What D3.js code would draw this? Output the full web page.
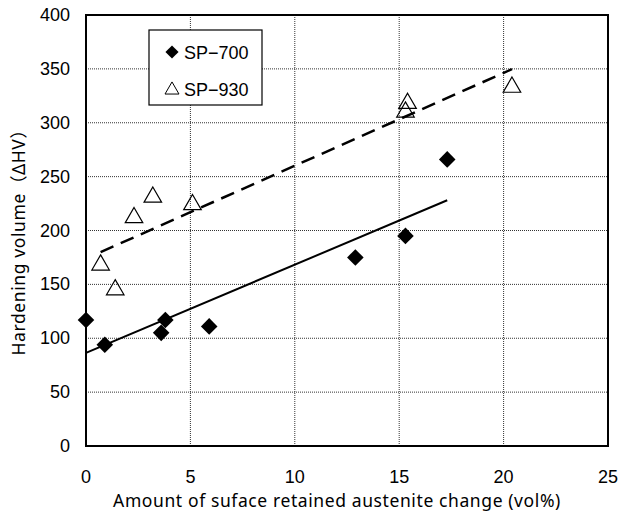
<!DOCTYPE html>
<html>
<head>
<meta charset="utf-8">
<script src="https://cdn.jsdelivr.net/npm/d3@7"></script>
<style>
  body { margin: 0; background: #fff; }
  #chart { width: 620px; height: 513px; }
  text { fill: #000; }
</style>
</head>
<body>
<div id="chart"></div>
<script>
// data

const sp700X = [0, 0.9, 3.6, 3.8, 5.9, 12.9, 15.3, 17.3];
const sp700Y = [117, 94, 105, 117, 111, 175, 195, 266];

const sp930X = [0.7, 1.4, 2.3, 3.2, 5.1, 15.3, 15.4, 20.4];
const sp930Y = [168, 145, 212, 231, 224, 310, 318, 333];

const xTicks = [0, 5, 10, 15, 20, 25];
const yTicks = [0, 50, 100, 150, 200, 250, 300, 350, 400];

const seriesNames = ["SP-700", "SP-930"];

const xTitle = "Amount of suface retained austenite change (vol%)";
const yTitle = "Hardening volume（ΔHV）";

// least squares line over the range of the points
function fit(xs, ys) {
  const mx = d3.mean(xs), my = d3.mean(ys);
  const sxy = d3.sum(xs, (x, i) => (x - mx) * (ys[i] - my));
  const sxx = d3.sum(xs, (x) => (x - mx) * (x - mx));
  const b = sxy / sxx, a = my - b * mx;
  const [x0, x1] = d3.extent(xs);
  return [[x0, a + b * x0], [x1, a + b * x1]];
}

const width = 620, height = 513;
const margin = { top: 15, right: 12, bottom: 67, left: 86 };

const svg = d3.select("#chart")
  .append("svg")
  .attr("width", width)
  .attr("height", height);

const x = d3.scaleLinear().domain([0, 25]).range([margin.left, width - margin.right]);
const y = d3.scaleLinear().domain([0, 400]).range([height - margin.bottom, margin.top]);

// grid

svg.append("g")
  .selectAll("line")
  .data(xTicks.slice(1, -1))
  .join("line")
  .attr("x1", (d) => x(d)).attr("x2", (d) => x(d))
  .attr("y1", y(0)).attr("y2", y(400))
  .attr("stroke", "#333")
  .attr("stroke-width", 1)
  .attr("stroke-dasharray", "1,1");

svg.append("g")
  .selectAll("line")
  .data(yTicks.slice(1, -1))
  .join("line")
  .attr("x1", x(0)).attr("x2", x(25))
  .attr("y1", (d) => y(d)).attr("y2", (d) => y(d))
  .attr("stroke", "#333")
  .attr("stroke-width", 1)
  .attr("stroke-dasharray", "1,1");

// frame

svg.append("rect")
  .attr("x", x(0)).attr("y", y(400))
  .attr("width", x(25) - x(0)).attr("height", y(0) - y(400))
  .attr("fill", "none")
  .attr("stroke", "#000")
  .attr("stroke-width", 2);

// tick labels

svg.append("g")
  .selectAll("text")
  .data(xTicks)
  .join("text")
  .attr("x", (d) => x(d))
  .attr("y", y(0) + 37)
  .attr("text-anchor", "middle")
  .style("font", "18px 'Liberation Sans', Arial, sans-serif")
  .text((d) => d);

svg.append("g")
  .selectAll("text")
  .data(yTicks)
  .join("text")
  .attr("x", x(0) - 16)
  .attr("y", (d) => y(d) + 6)
  .attr("text-anchor", "end")
  .style("font", "18px 'Liberation Sans', Arial, sans-serif")
  .text((d) => d);

// axis titles

svg.append("text")
  .attr("x", 337)
  .attr("y", 507)
  .attr("text-anchor", "middle")
  .style("font", "17.5px 'Noto Sans', 'Noto Sans CJK JP', sans-serif")
  .style("letter-spacing", "0.6px")
  .text(xTitle);

svg.append("text")
  .attr("transform", "translate(25," + 238 + ") rotate(-90)")
  .attr("text-anchor", "middle")
  .style("font", "17.5px 'Noto Sans', 'Noto Sans CJK JP', sans-serif")
  .style("letter-spacing", "0.6px")
  .text(yTitle);

// trend lines

const line = d3.line().x((d) => x(d[0])).y((d) => y(d[1]));

svg.append("path")
  .attr("d", line(fit(sp700X, sp700Y)))
  .attr("fill", "none")
  .attr("stroke", "#000")
  .attr("stroke-width", 2);

svg.append("path")
  .attr("d", line(fit(sp930X, sp930Y)))
  .attr("fill", "none")
  .attr("stroke", "#000")
  .attr("stroke-width", 2.5)
  .attr("stroke-dasharray", "14,8");

// markers

const diamond = d3.symbol().type(d3.symbolDiamond2).size(175);
const triangle = d3.symbol().type(d3.symbolTriangle2).size(220);

svg.append("g")
  .selectAll("path")
  .data(sp700X)
  .join("path")
  .attr("transform", (d, i) => "translate(" + [x(d), y(sp700Y[i])] + ")")
  .attr("d", diamond)
  .attr("fill", "#000");

svg.append("g")
  .selectAll("path")
  .data(sp930X)
  .join("path")
  .attr("transform", (d, i) => "translate(" + [x(d), y(sp930Y[i])] + ")")
  .attr("d", triangle)
  .attr("fill", "none")
  .attr("stroke", "#000")
  .attr("stroke-width", 1.2);

// legend

const legend = svg.append("g").attr("transform", "translate(149,30)");

legend.append("rect")
  .attr("width", 113).attr("height", 75)
  .attr("fill", "#fff")
  .attr("stroke", "#000")
  .attr("stroke-width", 1.2);

legend.append("path")
  .attr("transform", "translate(23,22)")
  .attr("d", d3.symbol().type(d3.symbolDiamond2).size(110))
  .attr("fill", "#000");

legend.append("path")
  .attr("transform", "translate(23,60)")
  .attr("d", d3.symbol().type(d3.symbolTriangle2).size(140))
  .attr("fill", "none")
  .attr("stroke", "#000")
  .attr("stroke-width", 1);

legend.selectAll("text")
  .data(seriesNames)
  .join("text")
  .attr("x", 35)
  .attr("y", (d, i) => 29 + i * 37)
  .style("font", "18px 'Liberation Sans', Arial, sans-serif")
  .text((d) => d.replace("-", "−"));
</script>
</body>
</html>
